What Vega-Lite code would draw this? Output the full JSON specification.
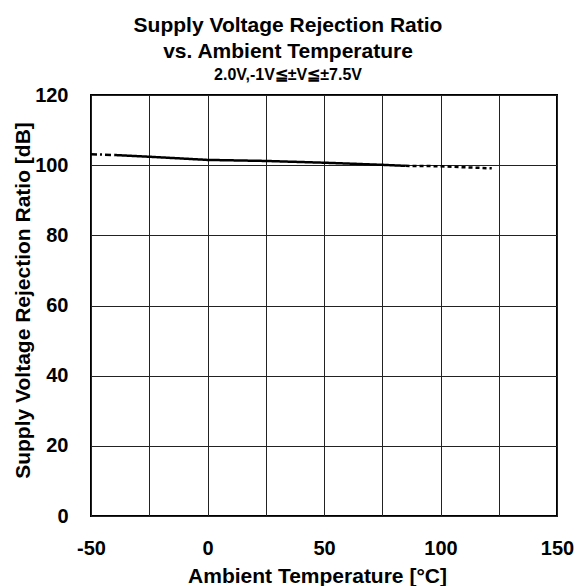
{
  "$schema": "https://vega.github.io/schema/vega-lite/v6.json",
  "width": 466,
  "height": 421,
  "autosize": "none",
  "padding": {"left": 91, "top": 95, "right": 19, "bottom": 70},
  "background": "white",
  "config": {
    "font": "Liberation Sans",
    "view": {"stroke": "#000", "strokeWidth": 2},
    "axis": {
      "labelFont": "Liberation Sans",
      "labelFontWeight": "bold",
      "labelFontSize": 20,
      "labelColor": "#000",
      "titleFont": "Liberation Sans",
      "titleFontWeight": "bold",
      "titleFontSize": 21,
      "titleColor": "#000",
      "ticks": false,
      "domain": false,
      "grid": true,
      "gridColor": "#222",
      "gridWidth": 1,
      "gridOpacity": 1
    }
  },
  "title": {
    "text": ["Supply Voltage Rejection Ratio", "vs. Ambient Temperature"],
    "subtitle": "2.0V,-1V≦±V≦±7.5V",
    "font": "Liberation Sans",
    "fontSize": 21,
    "fontWeight": "bold",
    "color": "#000",
    "lineHeight": 26,
    "subtitleFont": "Liberation Sans",
    "subtitleFontSize": 16,
    "subtitleFontWeight": "bold",
    "subtitleColor": "#000",
    "subtitlePadding": 5,
    "anchor": "middle",
    "dx": -36,
    "offset": 2
  },
  "data": {
    "values": [
      {"t": -50, "psrr": 103.1, "seg": "a"},
      {"t": -40, "psrr": 102.9, "seg": "a"},
      {"t": -40, "psrr": 102.9, "seg": "b"},
      {"t": -25, "psrr": 102.4, "seg": "b"},
      {"t": 0, "psrr": 101.5, "seg": "b"},
      {"t": 25, "psrr": 101.2, "seg": "b"},
      {"t": 50, "psrr": 100.7, "seg": "b"},
      {"t": 75, "psrr": 100.1, "seg": "b"},
      {"t": 85, "psrr": 99.8, "seg": "b"},
      {"t": 85, "psrr": 99.8, "seg": "c"},
      {"t": 100, "psrr": 99.7, "seg": "c"},
      {"t": 110, "psrr": 99.4, "seg": "c"},
      {"t": 122, "psrr": 99.1, "seg": "c"}
    ]
  },
  "mark": {"type": "line", "color": "#000", "strokeWidth": 2.5, "clip": true},
  "encoding": {
    "x": {
      "field": "t",
      "type": "quantitative",
      "scale": {"domain": [-50, 150], "nice": false, "zero": false},
      "axis": {
        "values": [-50, -25, 0, 25, 50, 75, 100, 125, 150],
        "labelExpr": "datum.value % 50 === 0 ? toString(datum.value) : ''",
        "labelPadding": 22,
        "labelFlush": false,
        "labelOverlap": false,
        "title": "Ambient Temperature [°C]",
        "titleX": 226,
        "titleY": 66,
        "titleBaseline": "alphabetic"
      }
    },
    "y": {
      "field": "psrr",
      "type": "quantitative",
      "scale": {"domain": [0, 120], "nice": false, "zero": true},
      "axis": {
        "values": [0, 20, 40, 60, 80, 100, 120],
        "labelPadding": 23,
        "labelFlush": false,
        "labelOverlap": false,
        "title": "Supply Voltage Rejection Ratio [dB]",
        "titleX": -62,
        "titleY": 205,
        "titleAngle": -90,
        "titleBaseline": "alphabetic",
        "titleAlign": "center"
      }
    },
    "detail": {"field": "seg"},
    "strokeDash": {
      "field": "seg",
      "type": "nominal",
      "scale": {"domain": ["a", "b", "c"], "range": [[6, 3, 2, 3], [1, 0], [4, 3]]},
      "legend": null
    }
  }
}
